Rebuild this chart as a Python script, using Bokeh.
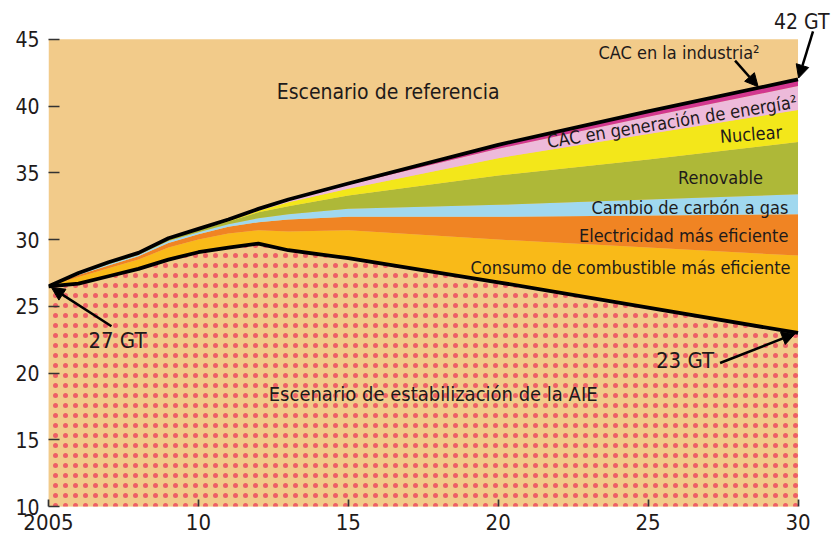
import numpy as np
from bokeh.plotting import figure
from bokeh.models import ColumnDataSource, FixedTicker, Range1d, Arrow, NormalHead
from bokeh.core.properties import value
from bokeh.embed import file_html
from bokeh.resources import INLINE

# ---- data (GT CO2) ----
years = [2005, 2006, 2007, 2008, 2009, 2010, 2011, 2012, 2013, 2015, 2020, 2025, 2030]
estabilizacion = [26.5, 26.7, 27.25, 27.8, 28.5, 29.05, 29.4, 29.7, 29.2, 28.6, 26.8, 24.9, 23.0]
consumo = [0, 0.5, 0.6, 0.7, 0.9, 0.95, 1.05, 1.0, 1.4, 2.1, 3.2, 4.5, 5.8]
electricidad = [0, 0.15, 0.2, 0.25, 0.35, 0.4, 0.5, 0.6, 0.9, 1.0, 1.7, 2.4, 3.1]
cambio_gas = [0, 0.05, 0.1, 0.1, 0.15, 0.15, 0.2, 0.3, 0.4, 0.6, 0.9, 1.2, 1.5]
renovable = [0, 0.0, 0.05, 0.05, 0.1, 0.15, 0.2, 0.45, 0.6, 1.0, 2.2, 3.0, 3.9]
nuclear = [0, 0.0, 0.0, 0.0, 0.0, 0.0, 0.05, 0.1, 0.3, 0.5, 1.3, 1.9, 2.4]
cac_generacion = [0, 0.05, 0.05, 0.05, 0.05, 0.05, 0.05, 0.1, 0.15, 0.3, 0.7, 1.3, 1.8]
cac_industria = [0, 0.05, 0.05, 0.05, 0.05, 0.05, 0.05, 0.05, 0.05, 0.1, 0.3, 0.4, 0.5]

x_ticks = [2005, 2010, 2015, 2020, 2025, 2030]
x_tick_labels = ["2005", "10", "15", "20", "25", "30"]
y_ticks = [10, 15, 20, 25, 30, 35, 40, 45]

layers = ["estabilizacion", "consumo", "electricidad", "cambio_gas",
          "renovable", "nuclear", "cac_generacion", "cac_industria"]
TAN = "#F2CB8A"
colors = [TAN, "#F9BA18", "#F08423", "#A0D8EF", "#AEB838", "#F3E71A", "#EDBADA", "#D2378F"]

src = ColumnDataSource(dict(year=years, estabilizacion=estabilizacion, consumo=consumo,
                            electricidad=electricidad, cambio_gas=cambio_gas,
                            renovable=renovable, nuclear=nuclear,
                            cac_generacion=cac_generacion, cac_industria=cac_industria))
referencia = np.sum([np.array(src.data[k]) for k in layers], axis=0)

FONT_STACK = "'DejaVu Sans Condensed', 'Roboto Condensed', Roboto, sans-serif"
FONT = value(FONT_STACK)
INK = "#1E1A1A"

p = figure(frame_width=784, frame_height=506,
           x_range=Range1d(2005, 2031.15), y_range=Range1d(10, 47.91),
           output_backend="svg", toolbar_location=None,
           min_border_left=48, min_border_right=0, min_border_top=0, min_border_bottom=36,
           background_fill_color="white", border_fill_color="white", outline_line_color=None)
p.grid.visible = False

# background of the reference scenario
p.quad(left=[years[0]], right=[years[-1]], bottom=[y_ticks[0]], top=[y_ticks[-1]],
       fill_color=TAN, line_color=None)

hatch = ["dot"] + [" "] * (len(layers) - 1)
p.varea_stack(stackers=layers, x="year", color=colors, source=src,
              hatch_pattern=hatch, hatch_color="#EE5F66", hatch_scale=10, hatch_weight=2.5)

p.line(years, estabilizacion, line_color="black", line_width=3.8, line_join="round")
p.line(years, referencia, line_color="black", line_width=3.8, line_join="round")

# axes
p.xaxis.ticker = FixedTicker(ticks=x_ticks)
p.xaxis.major_label_overrides = {t: l for t, l in zip(x_ticks, x_tick_labels)}
p.yaxis.ticker = FixedTicker(ticks=y_ticks)
for ax in (p.xaxis, p.yaxis):
    ax.axis_line_color = None
    ax.minor_tick_line_color = None
    ax.major_tick_out = 0
    ax.major_tick_line_color = "#333333"
    ax.major_tick_line_width = 1.7
    ax.major_label_text_font = FONT_STACK
    ax.major_label_text_color = INK
p.xaxis.major_tick_in = 7
p.yaxis.major_tick_in = 11
p.xaxis.major_label_text_font_size = "22px"
p.yaxis.major_label_text_font_size = "21px"
p.xaxis.major_label_standoff = 7
p.yaxis.major_label_standoff = 9

def txt(x, y, s, size, align="center", angle=0.0):
    p.text(x=[x], y=[y], text=[s], text_font=FONT, text_font_size=size,
           text_align=align, text_baseline="middle", text_color=INK, angle=angle)

txt(2016.33, 41.05, "Escenario de referencia", "21px")
txt(2017.83, 18.45, "Escenario de estabilización de la AIE", "20px")
txt(2026.03, 44.05, "CAC en la industria²", "18px")
txt(2025.8, 38.85, "CAC en generación de energía²", "18px", angle=0.16)
txt(2028.43, 37.9, "Nuclear", "18px", angle=0.08)
txt(2028.83, 34.66, "Renovable", "18px", align="right")
txt(2029.68, 32.4, "Cambio de carbón a gas", "18px", align="right")
txt(2029.68, 30.3, "Electricidad más eficiente", "18px", align="right")
txt(2029.75, 27.9, "Consumo de combustible más eficiente", "18px", align="right")
txt(2031.05, 46.3, "42 GT", "21px", align="right")
txt(2007.3, 22.43, "27 GT", "22px")
txt(2026.23, 20.93, "23 GT", "22px")

def arrow(x0, y0, x1, y1):
    p.add_layout(Arrow(end=NormalHead(size=13, fill_color="black", line_color="black"),
                       x_start=x0, y_start=y0, x_end=x1, y_end=y1,
                       line_color="black", line_width=2.5))

arrow(2030.5, 45.6, 2030.02, 42.1)
arrow(2027.9, 43.4, 2028.67, 41.45)
arrow(2007.1, 23.5, 2005.1, 26.4)
arrow(2027.4, 20.75, 2029.9, 22.95)

open("out.html", "w").write(file_html(p, INLINE))
